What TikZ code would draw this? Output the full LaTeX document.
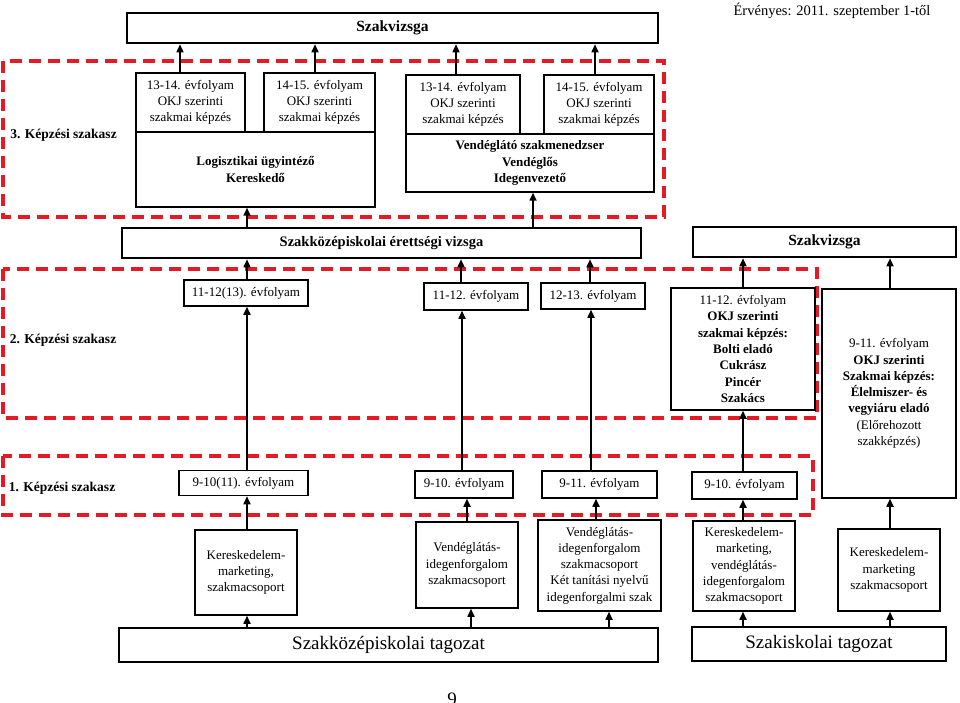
\documentclass[tikz,border=0pt]{standalone}
\usepackage{fontspec}
\setmainfont{Liberation Serif}
\usetikzlibrary{arrows.meta}
\definecolor{dred}{RGB}{228,26,36}
\tikzset{
  box/.style={draw, line width=1.5pt, inner sep=0pt, align=center, font=\fontsize{13}{16.3}\selectfont},
  bar/.style={draw, line width=2.6pt, inner sep=0pt, align=center},
  reddash/.style={draw=dred, line width=3.2pt, dash pattern=on 12pt off 7pt},
  arr/.style={line width=1.6pt, -{Triangle[length=8pt,width=7pt]}},
  lab/.style={inner sep=0pt, font=\fontsize{13.5}{16}\selectfont\bfseries}
}
\begin{document}
\begin{tikzpicture}[x=1pt,y=-1pt]
\useasboundingbox (0,0) rectangle (960,703);
% red dashed sections
\draw[reddash] (3,61) rectangle (664,217);
\draw[reddash] (3,269) rectangle (817,418);
\draw[reddash] (3,456) rectangle (813,515);
% column coordinates
\coordinate (xA1) at (180,0);
\coordinate (xA2) at (315,0);
\coordinate (xB1) at (456,0);
\coordinate (xB2) at (595,0);
\coordinate (xc1) at (247,0);
\coordinate (xV) at (533,0);
\coordinate (x461) at (461,0);
\coordinate (x462) at (462,0);
\coordinate (x467) at (467,0);
\coordinate (x471) at (471,0);
\coordinate (x590) at (590,0);
\coordinate (x591) at (591,0);
\coordinate (x596) at (596,0);
\coordinate (x609) at (609,0);
\coordinate (x743) at (743,0);
\coordinate (x890) at (890,0);
% top
\node[bar, minimum width=531pt, minimum height=30pt, font=\fontsize{15.5}{18}\selectfont\bfseries] (szv1) at (392.5,28) {Szakvizsga};
\node[inner sep=0pt, font=\fontsize{14.5}{17}\selectfont] (erv) at (832,11) {Érvényes: 2011. szeptember 1-től};
% section 3
\node[lab] (lab3) at (63.5,135) {3. Képzési szakasz};
\node[box, minimum width=109pt, minimum height=59pt] (A1) at (190.5,102.5) {13-14. évfolyam\\OKJ szerinti\\szakmai képzés};
\node[box, minimum width=111pt, minimum height=59pt] (A2) at (319.5,102.5) {14-15. évfolyam\\OKJ szerinti\\szakmai képzés};
\node[box, minimum width=239pt, minimum height=75pt, font=\fontsize{13}{16.3}\selectfont\bfseries] (Log) at (255.5,169.5) {Logisztikai ügyintéző\\Kereskedő};
\node[box, minimum width=114pt, minimum height=59pt] (B1) at (463,104.5) {13-14. évfolyam\\OKJ szerinti\\szakmai képzés};
\node[box, minimum width=110pt, minimum height=59pt] (B2) at (599,104.5) {14-15. évfolyam\\OKJ szerinti\\szakmai képzés};
\node[box, minimum width=248pt, minimum height=58pt, font=\fontsize{13}{16.3}\selectfont\bfseries] (Vend) at (530,163) {Vendéglátó szakmenedzser\\Vendéglős\\Idegenvezető};
% exams row
\node[bar, minimum width=519pt, minimum height=30pt, font=\fontsize{14.5}{17}\selectfont\bfseries] (erett) at (381.5,243) {Szakközépiskolai érettségi vizsga};
\node[bar, minimum width=263pt, minimum height=30pt, font=\fontsize{15.5}{18}\selectfont\bfseries] (szv2) at (824.5,242) {Szakvizsga};
% section 2
\node[lab] (lab2) at (63,340) {2. Képzési szakasz};
\node[box, minimum width=124pt, minimum height=26pt] (n1) at (246,293) {11-12(13). évfolyam};
\node[box, minimum width=104pt, minimum height=27pt] (n2) at (476,296.5) {11-12. évfolyam};
\node[box, minimum width=104pt, minimum height=26pt] (n3) at (593,296) {12-13. évfolyam};
\node[box, minimum width=144pt, minimum height=122pt] (okj) at (743,349) {11-12. évfolyam\\\textbf{OKJ szerinti}\\\textbf{szakmai képzés:}\\\textbf{Bolti eladó}\\\textbf{Cukrász}\\\textbf{Pincér}\\\textbf{Szakács}};
\node[box, minimum width=134pt, minimum height=209pt] (rbox) at (889,393.5) {9-11. évfolyam\\\textbf{OKJ szerinti}\\\textbf{Szakmai képzés:}\\\textbf{Élelmiszer- és}\\\textbf{vegyiáru eladó}\\(Előrehozott\\szakképzés)};
% section 1
\node[lab] (lab1) at (62,488) {1. Képzési szakasz};
\node[box, minimum width=129pt, minimum height=25pt] (m1) at (243.5,483) {9-10(11). évfolyam};
\node[box, minimum width=98pt, minimum height=27pt] (m2) at (464,484.5) {9-10. évfolyam};
\node[box, minimum width=115pt, minimum height=27pt] (m3) at (599.5,484.5) {9-11. évfolyam};
\node[box, minimum width=105pt, minimum height=27pt] (m4) at (744.5,485.5) {9-10. évfolyam};
% groups
\node[box, minimum width=102pt, minimum height=85pt] (K1) at (246,572.5) {\raisebox{5pt}{\parbox{100pt}{\centering Kereskedelem-\\marketing,\\szakmacsoport}}};
\node[box, minimum width=102pt, minimum height=86pt] (V1) at (467,565) {\raisebox{6pt}{\parbox{100pt}{\centering Vendéglátás-\\idegenforgalom\\szakmacsoport}}};
\node[box, minimum width=123pt, minimum height=91pt] (V2) at (599.5,565.5) {Vendéglátás-\\idegenforgalom\\szakmacsoport\\Két tanítási nyelvű\\idegenforgalmi szak};
\node[box, minimum width=102pt, minimum height=90pt] (K2) at (744,566) {Kereskedelem-\\marketing,\\vendéglátás-\\idegenforgalom\\szakmacsoport};
\node[box, minimum width=102pt, minimum height=82pt] (K3) at (889,570) {\raisebox{2pt}{\parbox{100pt}{\centering Kereskedelem-\\marketing\\szakmacsoport}}};
% bottom bars
\node[bar, minimum width=539pt, minimum height=34pt, font=\fontsize{19}{22}\selectfont] (bar1) at (388.5,645) {Szakközépiskolai tagozat};
\node[bar, minimum width=254pt, minimum height=34pt, font=\fontsize{19}{22}\selectfont] (bar2) at (819,644) {Szakiskolai tagozat};
\node[inner sep=0pt, anchor=base, font=\fontsize{19}{22}\selectfont] (pg) at (452,705) {9};
% arrows
\draw[arr] (A1.north -| xA1) -- (szv1.south -| xA1);
\draw[arr] (A2.north -| xA2) -- (szv1.south -| xA2);
\draw[arr] (B1.north -| xB1) -- (szv1.south -| xB1);
\draw[arr] (B2.north -| xB2) -- (szv1.south -| xB2);
\draw[arr] (erett.north -| xc1) -- (Log.south -| xc1);
\draw[arr] (erett.north -| xV) -- (Vend.south -| xV);
\draw[arr] (n1.north -| xc1) -- (erett.south -| xc1);
\draw[arr] (n2.north -| x461) -- (erett.south -| x461);
\draw[arr] (n3.north -| x590) -- (erett.south -| x590);
\draw[arr] (okj.north -| x743) -- (szv2.south -| x743);
\draw[arr] (rbox.north -| x890) -- (szv2.south -| x890);
\draw[arr] (m1.north -| xc1) -- (n1.south -| xc1);
\draw[arr] (m2.north -| x462) -- (n2.south -| x462);
\draw[arr] (m3.north -| x591) -- (n3.south -| x591);
\draw[arr] (m4.north -| x743) -- (okj.south -| x743);
\draw[arr] (K1.north -| xc1) -- (m1.south -| xc1);
\draw[arr] (V1.north -| x467) -- (m2.south -| x467);
\draw[arr] (V2.north -| x596) -- (m3.south -| x596);
\draw[arr] (K2.north -| x743) -- (m4.south -| x743);
\draw[arr] (K3.north -| x890) -- (rbox.south -| x890);
\draw[arr] (bar1.north -| xc1) -- (K1.south -| xc1);
\draw[arr] (bar1.north -| x471) -- (V1.south -| x471);
\draw[arr] (bar1.north -| x609) -- (V2.south -| x609);
\draw[arr] (bar2.north -| x743) -- (K2.south -| x743);
\draw[arr] (bar2.north -| x890) -- (K3.south -| x890);
\end{tikzpicture}
\end{document}
